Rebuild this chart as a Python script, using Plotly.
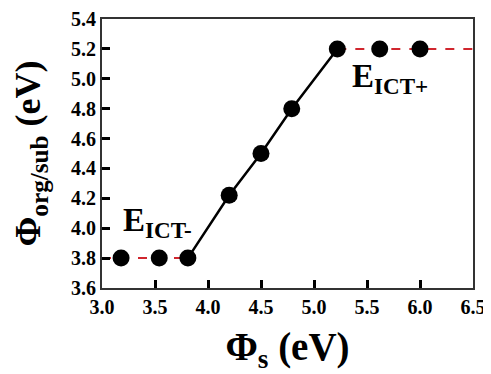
import plotly.graph_objects as go

phi_s = [3.18, 3.54, 3.81, 4.20, 4.50, 4.79, 5.22, 5.62, 6.00]
phi_org = [3.80, 3.80, 3.80, 4.22, 4.50, 4.80, 5.20, 5.20, 5.20]
x_ticks = [3.0, 3.5, 4.0, 4.5, 5.0, 5.5, 6.0, 6.5]
y_ticks = [3.6, 3.8, 4.0, 4.2, 4.4, 4.6, 4.8, 5.0, 5.2, 5.4]

lin_x = phi_s[2:7]
lin_y = phi_org[2:7]
low_x = [3.0, 3.81]
low_y = [3.80, 3.80]
high_x = [5.22, 6.5]
high_y = [5.20, 5.20]

FONT = "Liberation Serif"

fig = go.Figure()
fig.add_trace(go.Scatter(x=low_x, y=low_y, mode="lines",
                         line=dict(color="#d0262e", width=2, dash="dash")))
fig.add_trace(go.Scatter(x=high_x, y=high_y, mode="lines",
                         line=dict(color="#d0262e", width=2, dash="dash")))
fig.add_trace(go.Scatter(x=lin_x, y=lin_y, mode="lines",
                         line=dict(color="black", width=2.5)))
fig.add_trace(go.Scatter(x=phi_s, y=phi_org, mode="markers",
                         marker=dict(color="black", size=17, symbol="circle")))

fig.add_annotation(x=3.52, y=4.04, text="<b>E<sub>ICT-</sub></b>", showarrow=False,
                   font=dict(family=FONT, size=33, color="black"))
fig.add_annotation(x=5.72, y=5.0, text="<b>E<sub>ICT+</sub></b>", showarrow=False,
                   font=dict(family=FONT, size=33, color="black"))

fig.update_layout(
    width=483, height=366,
    margin=dict(l=94, r=18, t=11, b=86),
    plot_bgcolor="white", paper_bgcolor="white",
    showlegend=False,
    font=dict(family=FONT, color="black"),
)
fig.update_xaxes(range=[3.0, 6.5], tickvals=x_ticks, ticktext=[f"<b>{v:.1f}</b>" for v in x_ticks],
                 ticks="inside", ticklen=8, tickwidth=3, tickcolor="black",
                 showline=True, linecolor="#333", linewidth=2, mirror=True,
                 showgrid=False, zeroline=False, automargin=False,
                 tickfont=dict(family=FONT, size=20, color="black"),
                 title=dict(text="<b>Φ<sub>s</sub> (eV)</b>", font=dict(family=FONT, size=39), standoff=18))
fig.update_yaxes(range=[3.6, 5.4], tickvals=y_ticks, ticktext=[f"<b>{v:.1f}</b>" for v in y_ticks],
                 ticks="inside", ticklen=8, tickwidth=3, tickcolor="black",
                 showline=True, linecolor="#333", linewidth=2, mirror=True,
                 showgrid=False, zeroline=False, automargin=False,
                 tickfont=dict(family=FONT, size=20, color="black"),
                 title=dict(text="<b>Φ<sub>org/sub</sub> (eV)</b>", font=dict(family=FONT, size=36), standoff=20))

fig.write_html("out.html")
